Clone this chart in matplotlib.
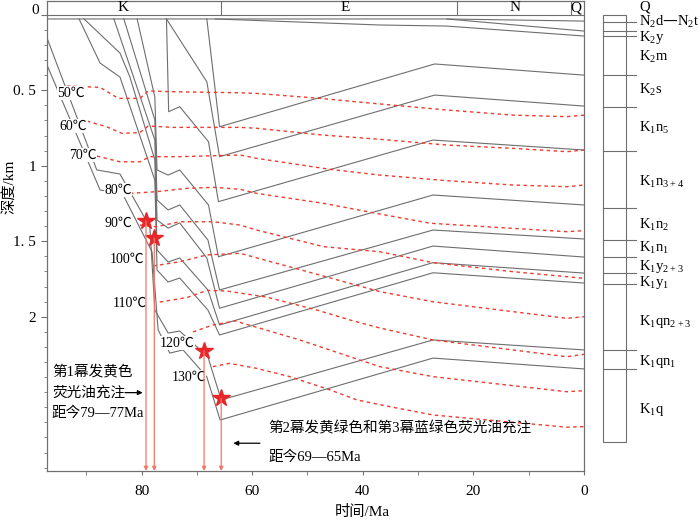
import matplotlib
matplotlib.use("Agg")
import matplotlib.pyplot as plt
from matplotlib.patches import Rectangle

plt.rcParams['font.family'] = ['Liberation Serif', 'Noto Sans CJK SC']
plt.rcParams['mathtext.default'] = 'regular'

# 各层底界埋藏曲线: 时间 (Ma) / 深度 (km)
surf_t = [97.1, 24.8, 0]
surf_d = [0.028, 0.028, 0.042]
n2_t = [24.8, 0]
n2_d = [0.028, 0.108]
k2y_t = [66.7, 36.9, 24.8, 0]
k2y_d = [0.028, 0.068, 0.075, 0.141]
k2m_t = [68.2, 65.9, 27.0, 0]
k2m_d = [0.028, 0.742, 0.326, 0.40]
k2s_t = [75.5, 68.2, 65.9, 27.0, 0]
k2s_d = [0.028, 0.444, 0.94, 0.532, 0.605]
k1n5_t = [75.5, 75.1, 73.1, 67.9, 66.1, 27.3, 0]
k1n5_d = [0.028, 0.642, 0.609, 0.841, 1.238, 0.83, 0.896]
k1n34_t = [80.8, 77.6, 77.2, 75.2, 73.1, 67.9, 66.1, 27.3, 0]
k1n34_d = [0.028, 0.545, 1.028, 1.062, 1.028, 1.26, 1.603, 1.194, 1.26]
k1n2_t = [83.2, 77.6, 77.2, 75.2, 73.1, 68.0, 65.9, 27.3, 0]
k1n2_d = [0.028, 0.697, 1.227, 1.293, 1.26, 1.492, 1.823, 1.426, 1.485]
k1n1_t = [85.0, 77.6, 77.2, 75.2, 73.1, 68.2, 65.9, 27.3, 0]
k1n1_d = [0.028, 0.83, 1.36, 1.413, 1.379, 1.611, 1.944, 1.532, 1.605]
k1y23_t = [90.4, 83.9, 82.1, 77.6, 77.2, 75.2, 73.1, 68.0, 65.9, 27.3, 0]
k1y23_d = [0.028, 0.254, 0.413, 0.962, 1.558, 1.638, 1.611, 1.823, 2.055, 1.642, 1.711]
k1y1_t = [91.3, 87.5, 83.9, 77.6, 77.2, 75.2, 73.1, 68.0, 65.9, 27.3, 0]
k1y1_d = [0.028, 0.32, 0.413, 1.095, 1.691, 1.77, 1.744, 1.956, 2.121, 1.709, 1.777]
k1qn23_t = [97.1, 88.1, 83.9, 78.5, 77.6, 75.2, 73.1, 68.0, 65.6, 27.3, 0]
k1qn23_d = [0.154, 1.028, 1.055, 1.406, 1.956, 2.108, 2.095, 2.267, 2.551, 2.154, 2.22]
k1qn1_t = [97.1, 87.5, 83.5, 78.1, 77.0, 74.9, 72.5, 68.2, 65.8, 27.3, 0]
k1qn1_d = [0.333, 1.161, 1.181, 1.571, 2.088, 2.241, 2.22, 2.399, 2.684, 2.274, 2.346]

burial = [(surf_t, surf_d), (n2_t, n2_d), (k2y_t, k2y_d), (k2m_t, k2m_d),
          (k2s_t, k2s_d), (k1n5_t, k1n5_d), (k1n34_t, k1n34_d),
          (k1n2_t, k1n2_d), (k1n1_t, k1n1_d), (k1y23_t, k1y23_d),
          (k1y1_t, k1y1_d), (k1qn23_t, k1qn23_d), (k1qn1_t, k1qn1_d)]

# 等温线
iso50_t = [93.5, 87.5, 84.2, 80.3, 78.8, 74.3, 62.2, 59.2, 47.7, 36.9, 24.8, 12.8, 3.1, 0]
iso50_d = [0.472, 0.481, 0.554, 0.554, 0.505, 0.51, 0.517, 0.521, 0.554, 0.591, 0.631, 0.665, 0.675, 0.665]
iso60_t = [89.9, 86.3, 83.6, 80.3, 78.8, 74.3, 62.2, 59.2, 47.2, 36.9, 24.8, 12.8, 3.1, 0]
iso60_d = [0.704, 0.742, 0.785, 0.781, 0.737, 0.746, 0.746, 0.752, 0.797, 0.825, 0.863, 0.885, 0.907, 0.896]
iso70_t = [88.1, 83.9, 80.3, 78.5, 73.1, 62.2, 59.2, 45.9, 36.9, 24.8, 12.8, 3.1, 0]
iso70_d = [0.936, 0.974, 0.974, 0.94, 0.94, 0.929, 0.951, 1.024, 1.062, 1.099, 1.128, 1.139, 1.128]
iso80_t = [82.1, 77.3, 71.8, 67.0, 62.2, 59.2, 47.1, 36.9, 27.8, 12.8, 3.1, 0]
iso80_d = [1.183, 1.172, 1.15, 1.143, 1.156, 1.183, 1.249, 1.32, 1.381, 1.415, 1.437, 1.43]
iso90_t = [80.3, 77.3, 73.1, 67.0, 62.2, 59.2, 47.1, 36.9, 27.3, 12.8, 3.1, 0]
iso90_d = [1.393, 1.404, 1.371, 1.371, 1.393, 1.426, 1.536, 1.57, 1.642, 1.702, 1.735, 1.746]
iso100_t = [77.9, 73.1, 68.2, 62.2, 47.2, 36.9, 27.3, 3.1, 0]
iso100_d = [1.664, 1.636, 1.591, 1.58, 1.73, 1.834, 1.901, 2.011, 2.0]
iso110_t = [76.7, 71.8, 68.2, 64.6, 57.4, 48.3, 42.3, 36.9, 27.3, 3.1, 0]
iso110_d = [1.903, 1.873, 1.826, 1.83, 1.87, 1.956, 2.022, 2.075, 2.154, 2.265, 2.249]
iso120_t = [70.7, 67.1, 63.1, 51.4, 36.9, 27.3, 3.1, 0]
iso120_d = [2.101, 2.055, 2.028, 2.154, 2.331, 2.397, 2.497, 2.49]
iso130_t = [67.1, 64.1, 59.2, 53.2, 45.9, 41.1, 35.1, 27.3, 3.1, 0]
iso130_d = [2.331, 2.309, 2.342, 2.397, 2.485, 2.551, 2.596, 2.651, 2.732, 2.728]

isotherms = [(iso50_t, iso50_d), (iso60_t, iso60_d), (iso70_t, iso70_d),
             (iso80_t, iso80_d), (iso90_t, iso90_d), (iso100_t, iso100_d),
             (iso110_t, iso110_d), (iso120_t, iso120_d), (iso130_t, iso130_d)]
iso_labels = ['50℃', '60℃', '70℃', '80℃', '90℃', '100℃', '110℃', '120℃', '130℃']
iso_label_t = [92.8, 92.3, 90.6, 84.2, 84.2, 82.7, 82.2, 73.5, 71.5]
iso_label_d = [0.519, 0.737, 0.929, 1.161, 1.38, 1.618, 1.909, 2.174, 2.399]

# 油充注期次
star_t = [79.2, 77.7, 68.7, 65.6]
star_d = [1.366, 1.48, 2.225, 2.54]

# 地层柱
strat_names = ['Q', 'N$_2$d—N$_2$t', 'K$_2$y', 'K$_2$m', 'K$_2$s', 'K$_1$n$_5$',
               'K$_1$n$_{3+4}$', 'K$_1$n$_2$', 'K$_1$n$_1$', 'K$_1$y$_{2+3}$',
               'K$_1$y$_1$', 'K$_1$qn$_{2+3}$', 'K$_1$qn$_1$', 'K$_1$q']
strat_bounds = [0.0, 0.048, 0.108, 0.141, 0.399, 0.611, 0.9, 1.28, 1.492,
                1.605, 1.711, 1.783, 2.22, 2.346, 2.83]
strat_label_d = [-0.053, 0.046, 0.15, 0.278, 0.499, 0.75, 1.106, 1.393,
                 1.545, 1.665, 1.772, 2.033, 2.298, 2.613]

periods = ['K', 'E', 'N', 'Q']
period_bounds = [97.1, 65.6, 23.0, 2.4, 0]
period_label_t = [83.4, 43.2, 12.5, 1.45]

T_MAX, D_TOP, D_BOT = 97.1, -0.091, 3.022

fig = plt.figure(figsize=(7, 5.21), dpi=100)
ax = fig.add_axes([47 / 700, 1 - 471 / 521, 537 / 700, 470 / 521])
ax.set_xlim(T_MAX, 0)
ax.set_ylim(D_BOT, D_TOP)

for t, d in burial:
    ax.plot(t, d, color='#6e6e6e', lw=0.8)

for (t, d), lab, lt, ld in zip(isotherms, iso_labels, iso_label_t, iso_label_d):
    ax.plot(t, d, color='#ee3b2c', lw=1.0, ls=(0, (2.5, 2.5)))
    ax.text(lt, ld, lab, fontsize=10, ha='center', va='center',
            bbox=dict(facecolor='white', edgecolor='none', pad=0.2))

for st, sd in zip(star_t, star_d):
    ax.annotate('', xy=(st, D_BOT), xytext=(st, sd),
                arrowprops=dict(arrowstyle='-|>', color='#f07868', lw=0.9,
                                mutation_scale=6, shrinkA=0, shrinkB=0))
ax.plot(star_t, star_d, marker='*', ls='none', color='#e8262a', ms=13, mec='#e8262a')

# 顶部年代带
ax.axhline(0, color='#6e6e6e', lw=0.8)
for b in period_bounds[1:-1]:
    ax.plot([b, b], [D_TOP, 0], color='#6e6e6e', lw=0.8)
for lab, lt in zip(periods, period_label_t):
    ax.text(lt, -0.047, lab, fontsize=11, ha='center', va='center')

for s in ['left', 'bottom', 'right', 'top']:
    ax.spines[s].set_color('#707070')
    ax.spines[s].set_linewidth(0.9)

ax.set_xticks([80, 60, 40, 20, 0])
ax.set_xticks(range(0, 97, 10), minor=True)
ax.set_yticks([0, 0.5, 1, 1.5, 2])
ax.set_yticklabels(['', '0. 5', '1', '1. 5', '2'])
ax.set_yticks([i / 10 for i in range(0, 31)], minor=True)
ax.tick_params(which='both', direction='out', color='#707070', labelsize=11)
ax.tick_params(axis='x', which='both', length=3, pad=7)
ax.tick_params(axis='y', which='major', length=4, pad=4)
ax.tick_params(axis='y', which='minor', length=2)
ax.tick_params(top=False, right=False)
ax.text(-8 / 537, -0.031, '0', fontsize=11, ha='right', va='center',
        transform=ax.get_yaxis_transform())

ax.text(96.2, 2.364, '第1幕发黄色', fontsize=10.5, ha='left', va='center')
ax.text(96.2, 2.503, '荧光油充注', fontsize=10.5, ha='left', va='center')
ax.text(96.2, 2.64, '距今79—77Ma', fontsize=10.5, ha='left', va='center')
ax.annotate('', xy=(79.8, 2.503), xytext=(83.0, 2.503),
            arrowprops=dict(arrowstyle='-|>', color='black', lw=0.9, mutation_scale=7,
                            shrinkA=0, shrinkB=0))

ax.text(57.1, 2.739, '第2幕发黄绿色和第3幕蓝绿色荧光油充注', fontsize=10.5, ha='left', va='center')
ax.text(57.1, 2.927, '距今69—65Ma', fontsize=10.5, ha='left', va='center')
ax.annotate('', xy=(63.4, 2.838), xytext=(58.6, 2.838),
            arrowprops=dict(arrowstyle='-|>', color='black', lw=0.9, mutation_scale=7,
                            shrinkA=0, shrinkB=0))

fig.text(9 / 700, 1 - 187 / 521, '深度/km', rotation=90, fontsize=11, ha='center', va='center')
fig.text(362 / 700, 1 - 512 / 521, '时间/Ma', fontsize=11, ha='center', va='center')

# 右侧地层柱
ax2 = fig.add_axes([590 / 700, 1 - 471 / 521, 110 / 700, 470 / 521])
ax2.set_xlim(590, 700)
ax2.set_ylim(D_BOT, D_TOP)
ax2.axis('off')
ax2.add_patch(Rectangle((603, strat_bounds[0]), 23, strat_bounds[-1] - strat_bounds[0],
                        facecolor='none', edgecolor='#6e6e6e', lw=0.8))
for b in strat_bounds[1:-1]:
    ax2.plot([603, 636], [b, b], color='#6e6e6e', lw=0.8)
for name, ld in zip(strat_names, strat_label_d):
    ax2.text(639, ld, name, fontsize=10.5, ha='left', va='center')

fig.savefig('out.png', dpi=100)
